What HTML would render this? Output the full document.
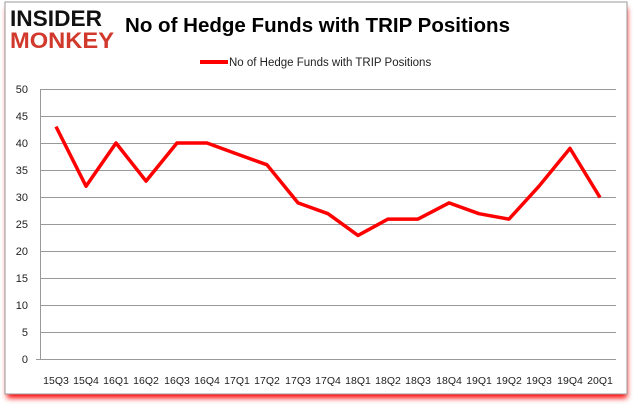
<!DOCTYPE html>
<html><head><style>
body{margin:0;width:635px;height:405px;background:#fff;overflow:hidden;font-family:"Liberation Sans",sans-serif}
</style></head><body>
<svg width="635" height="405" xmlns="http://www.w3.org/2000/svg">
<defs><filter id="s" x="-5%" y="-5%" width="110%" height="115%"><feGaussianBlur stdDeviation="3"/></filter></defs>
<rect x="7" y="8" width="620" height="390" fill="#f00" filter="url(#s)"/>
<rect x="5" y="2" width="622" height="392" fill="#fff" stroke="#999"/>
<text x="10" y="26" font-size="22" font-weight="bold" fill="#111" textLength="92" lengthAdjust="spacingAndGlyphs">INSIDER</text>
<text x="10" y="48" font-size="22" font-weight="bold" fill="#d0392b" textLength="104" lengthAdjust="spacingAndGlyphs">MONKEY</text>
<text x="125" y="32" font-size="20.5" font-weight="bold" fill="#000" textLength="385" lengthAdjust="spacingAndGlyphs">No of Hedge Funds with TRIP Positions</text>
<line x1="200" y1="62" x2="228" y2="62" stroke="#f00" stroke-width="4"/>
<text x="229" y="66" font-size="11.5" fill="#222">No of Hedge Funds with TRIP Positions</text>
<g stroke="#999" stroke-width="1">
<line x1="41" y1="89.5" x2="616" y2="89.5"/><line x1="41" y1="116.5" x2="616" y2="116.5"/><line x1="41" y1="143.5" x2="616" y2="143.5"/><line x1="41" y1="170.5" x2="616" y2="170.5"/><line x1="41" y1="197.5" x2="616" y2="197.5"/><line x1="41" y1="224.5" x2="616" y2="224.5"/><line x1="41" y1="251.5" x2="616" y2="251.5"/><line x1="41" y1="278.5" x2="616" y2="278.5"/><line x1="41" y1="305.5" x2="616" y2="305.5"/><line x1="41" y1="332.5" x2="616" y2="332.5"/>
<line x1="36" y1="359.5" x2="616" y2="359.5"/><line x1="40.5" y1="89" x2="40.5" y2="360"/>
</g>
<g font-size="11" fill="#222" text-anchor="end">
<text x="28" y="93">50</text><text x="28" y="120">45</text><text x="28" y="147">40</text><text x="28" y="174">35</text><text x="28" y="201">30</text><text x="28" y="228">25</text><text x="28" y="255">20</text><text x="28" y="282">15</text><text x="28" y="309">10</text><text x="28" y="336">5</text><text x="28" y="363">0</text>
</g>
<g font-size="10.5" fill="#222" text-anchor="middle">
<text x="56" y="384">15Q3</text><text x="86" y="384">15Q4</text><text x="116" y="384">16Q1</text><text x="146" y="384">16Q2</text><text x="177" y="384">16Q3</text><text x="207" y="384">16Q4</text><text x="237" y="384">17Q1</text><text x="267" y="384">17Q2</text><text x="298" y="384">17Q3</text><text x="328" y="384">17Q4</text><text x="358" y="384">18Q1</text><text x="388" y="384">18Q2</text><text x="418" y="384">18Q3</text><text x="449" y="384">18Q4</text><text x="479" y="384">19Q1</text><text x="509" y="384">19Q2</text><text x="539" y="384">19Q3</text><text x="570" y="384">19Q4</text><text x="600" y="384">20Q1</text>
</g>
<polyline fill="none" stroke="#f00" stroke-width="3.5" stroke-linejoin="round" points="56,126.6 86,186.2 116,143.0 146,181.1 177,143.0 207,143.0 237,154.0 267,164.8 298,202.9 328,213.7 358,235.4 388,219.1 418,219.1 449,202.9 479,213.7 509,219.1 539,186.2 570,148.4 600,197.5"/>
</svg>
</body></html>
